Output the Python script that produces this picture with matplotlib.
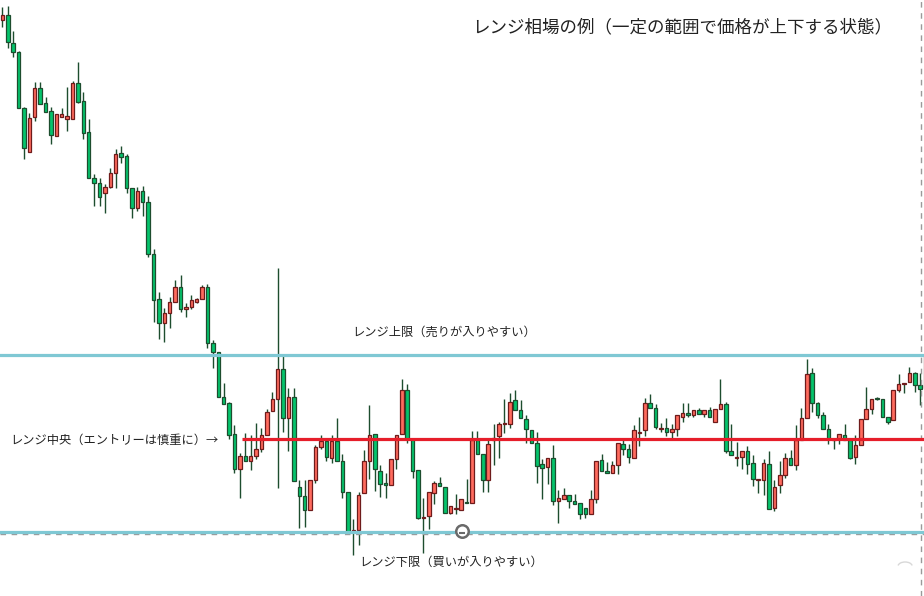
import matplotlib
matplotlib.use("Agg")
import matplotlib.pyplot as plt
from matplotlib.patches import Arc
import numpy as np

plt.rcParams['font.family'] = ['Noto Sans CJK JP', 'DejaVu Sans']

# OHLC (price points) left to right
opens = [576, 581, 553, 544, 488, 444, 479, 508, 493, 485, 460, 479, 477, 477, 513, 495, 464, 418, 413, 403,
         409, 423, 443, 440, 408, 388, 405, 394, 342, 297, 273, 283, 294, 309, 287, 289, 294, 297, 309, 253,
         244, 199, 193, 162, 127, 140, 135, 140, 147, 161, 185, 197, 227, 178, 199, 109, 100, 86, 116, 149,
         155, 138, 155, 135, 104, 64, 66, 103, 135, 162, 125, 113, 111, 137, 162, 206, 157, 126, 78, 80,
         103, 113, 109, 83, 87.5, 86, 94, 93, 156, 142, 116, 156, 160, 172.5, 172, 196, 186, 177, 166, 153,
         132, 129, 138, 95, 97, 101, 95, 93, 88, 82, 97, 136, 125, 123, 131, 152, 147, 138, 163.5, 166,
         193, 188, 167.5, 168, 164, 167, 179, 183, 181, 186, 182, 186, 174, 187, 192, 145, 138.5, 139, 145, 133,
         116.5, 116, 132, 88, 111, 121, 138, 131, 156, 178, 223, 193, 181, 167, 156.5, 157, 161, 156, 139, 151,
         177, 187, 198, 197, 179, 176, 206, 212.5, 214, 223, 211, 208]
highs = [589, 590, 565, 545, 489, 483, 514, 514, 499, 489, 482, 488, 509, 515, 534, 504, 477, 422, 418, 412,
         428, 447, 450, 442, 408, 409, 410, 400, 347, 304, 288, 299, 316, 321, 293, 301, 298, 311, 312, 256,
         244, 213, 194, 171, 143, 163, 161, 173, 168, 187, 204, 328, 242, 208, 208, 116, 116, 116, 151, 161,
         158, 161, 178, 142, 104, 77, 104, 146, 191, 162, 131, 123, 137, 161, 217, 212, 157, 126, 98, 104,
         115, 119, 109, 90, 102, 97, 117, 165, 165, 142, 156, 172, 174, 197, 203, 206, 196, 181, 166, 164,
         137, 138, 151, 106, 108, 101, 102, 93, 88, 106, 135, 142, 134, 135, 153, 156, 152, 171, 179, 198,
         202, 192, 173, 178, 172, 181, 193, 193, 186, 188, 186, 189, 187, 217, 194, 172, 154, 145, 150, 141,
         117, 137, 145, 116, 135, 143, 146, 171, 188, 237, 228, 194, 184, 172, 157, 162, 172, 156, 161, 177,
         209, 197, 199, 197, 179, 206, 222, 213, 229, 224, 223, 246]
lows = [569, 548, 539, 488, 437, 444, 475, 492, 484, 452, 460, 479, 465, 477, 493, 457, 418, 390, 390, 383,
        408, 408, 433, 403, 378, 385, 380, 339, 274, 257, 254, 268, 294, 284, 279, 287, 293, 297, 248, 228,
        199, 192, 157, 123, 98, 135, 126, 137, 144, 161, 185, 108, 164, 145, 115, 68, 69, 86, 113, 147,
        135, 133, 135, 98, 64, 41, 51, 103, 117, 105, 99, 98, 111, 127, 162, 153, 118, 77, 43, 67,
        92, 110, 83, 82, 82, 86, 93, 93, 142, 104, 104, 131, 138, 163, 168, 186, 178, 153, 153, 113,
        97, 112, 91, 73, 97, 88, 92, 77, 78, 82, 93, 125, 123, 123, 122, 141, 133, 138, 150, 160,
        188, 167, 164, 160, 157, 160, 174, 179, 179, 182, 179, 179, 174, 187, 143, 141, 130, 127, 122, 110,
        103, 101, 87, 85, 103, 118, 131, 126, 156, 178, 184, 178, 167, 152, 147, 152, 156, 137, 132, 151,
        177, 182, 196, 179, 172, 176, 204, 203, 214, 204, 191, 201]
closes = [581, 554, 544, 488, 448, 478, 508, 492, 484, 461, 482, 482, 480, 513, 494, 463, 418, 413, 399, 409,
          423, 442, 439, 408, 388, 405, 394, 342, 296, 273, 283, 294, 309, 287, 289, 296, 297, 309, 253, 244,
          199, 192, 161, 127, 140, 135, 140, 147, 161, 184, 197, 227, 178, 199, 115, 100, 86, 116, 149, 155,
          139, 155, 135, 104, 64, 66, 101, 135, 161, 127, 112, 111, 137, 161, 206, 157, 125, 78, 79, 104,
          113, 110, 83, 90, 88, 97, 93, 156, 142, 116, 152, 158, 172, 173, 194, 186, 178, 167, 153, 130,
          128, 138, 95, 98, 101, 95, 92, 82, 82, 97, 135, 125, 123, 131, 153, 147, 139, 166, 164, 193,
          188, 169, 168, 164, 167, 181, 183, 181, 186, 182, 186, 179, 187, 192, 145, 141, 139, 145, 132, 117,
          117, 133, 87, 109, 121, 138, 131, 156, 178, 222, 193, 181, 167, 157, 157, 162, 156, 138, 151, 177,
          187, 197, 197, 179, 174, 206, 212, 213, 223, 211, 207, 241]

range_high = 241
range_mid = 157
range_low = 64

title = "レンジ相場の例（一定の範囲で価格が上下する状態）"
label_high = "レンジ上限（売りが入りやすい）"
label_mid = "レンジ中央（エントリーは慎重に）→"
label_low = "レンジ下限（買いが入りやすい）"

o = np.array(opens, dtype=float)
h = np.array(highs, dtype=float)
l = np.array(lows, dtype=float)
c = np.array(closes, dtype=float)
x = np.arange(len(o))
up = c >= o

fig = plt.figure(figsize=(9.24, 5.96), dpi=100)
ax = fig.add_axes([0, 0, 1, 1])
ax.set_xlim(-0.43, 170.7)
ax.set_ylim(0, 596)
ax.axis('off')

wick_col = '#1d4d2e'
ax.vlines(x, l, h, color=wick_col, lw=1.0, zorder=2)

bottom = np.minimum(o, c)
height = np.maximum(np.abs(c - o), 0.8)
ax.bar(x[up], height[up], bottom=bottom[up], width=0.66, color='#ff6b5e',
       edgecolor='#6e1b1b', linewidth=0.9, zorder=3)
ax.bar(x[~up], height[~up], bottom=bottom[~up], width=0.66, color='#04c46c',
       edgecolor='#1d4d2e', linewidth=0.9, zorder=3)

# range lines
ax.axhline(range_low - 2, color='#9a9a9a', lw=1.0, ls=(0, (4, 4)), zorder=4)
ax.axhline(range_high, color='#7fc8d4', lw=2.3, zorder=5)
ax.axhline(range_low, color='#7fc8d4', lw=2.3, zorder=5)
ax.hlines(range_mid, 44.4, 171, color='#e61e2a', lw=2.3, zorder=5)
ax.axvline(170.1, color='#9a9a9a', lw=1.0, ls=(0, (4, 4)), zorder=4)

# marker on the lower bound
ax.plot(85.1, range_low + 1, 'o', ms=9, mfc='white', mec='#6a6a6a', mew=1.8, zorder=6)
ax.plot(85.1, range_low - 1, '_', ms=4, mec='#6a6a6a', mew=1.5, zorder=7)
ax.add_patch(Arc((167.2, 30), 2.6, 8, theta1=20, theta2=160, color='#d8d8d8', lw=1.0))

ax.text(87.0, 569, title, fontsize=12.6, color='#222222', va='center', ha='left')
ax.text(64.8, 264, label_high, fontsize=8.8, color='#222222', va='center', ha='left')
ax.text(1.4, 156, label_mid, fontsize=8.8, color='#222222', va='center', ha='left')
ax.text(66.2, 34, label_low, fontsize=8.8, color='#222222', va='center', ha='left')

fig.savefig('out.png', dpi=100, facecolor='white')
